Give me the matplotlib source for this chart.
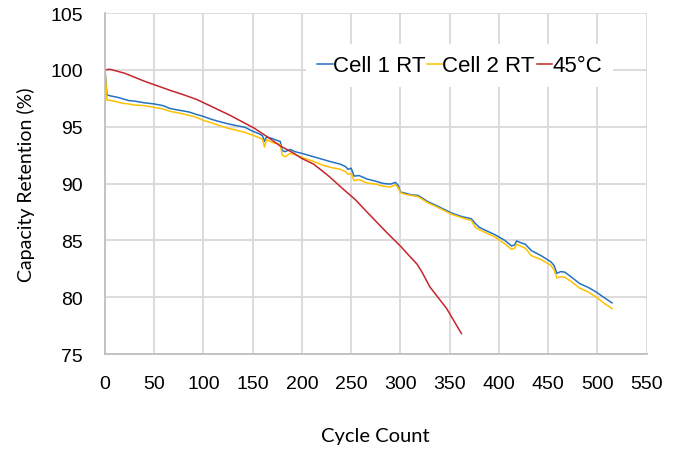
import matplotlib
matplotlib.use("Agg")
import matplotlib.pyplot as plt

# cycle points shared by the two room-temperature cells
rt_cycles = [
    0, 2, 6, 12, 18, 24, 30, 40, 50, 59, 66, 75, 85, 92, 100, 108, 116, 125,
    133, 142, 150, 156, 160, 162, 164, 170, 176, 178, 180, 183, 188, 193, 200,
    210, 220, 230, 239, 244, 247, 250, 253, 258, 266, 275, 283, 290, 295, 298,
    300, 305, 311, 318, 328, 338, 345, 352, 362, 372, 376, 380, 386, 396, 406,
    413, 416, 418, 422, 427, 433, 443, 453, 456, 459, 463, 467, 474, 482, 491,
    499, 508, 515,
]
cell1_rt = [
    100.0, 97.8, 97.7, 97.6, 97.45, 97.3, 97.25, 97.1, 97.0, 96.85, 96.6,
    96.45, 96.3, 96.1, 95.9, 95.65, 95.45, 95.25, 95.1, 94.95, 94.6, 94.4,
    94.2, 93.7, 94.1, 93.95, 93.75, 93.7, 92.9, 92.8, 93.0, 92.8, 92.65, 92.4,
    92.15, 91.9, 91.7, 91.5, 91.25, 91.35, 90.65, 90.7, 90.4, 90.2, 90.0,
    89.95, 90.1, 89.8, 89.25, 89.15, 89.0, 88.95, 88.4, 88.0, 87.7, 87.4,
    87.1, 86.9, 86.5, 86.15, 85.9, 85.5, 85.0, 84.5, 84.6, 84.95, 84.8, 84.65,
    84.1, 83.65, 83.1, 82.8, 82.1, 82.25, 82.2, 81.75, 81.2, 80.85, 80.45,
    79.9, 79.5,
]
cell2_rt = [
    100.0, 97.35, 97.3, 97.2, 97.05, 97.0, 96.9, 96.85, 96.7, 96.55, 96.35,
    96.2, 96.0, 95.85, 95.55, 95.35, 95.1, 94.85, 94.7, 94.5, 94.25, 94.05,
    93.9, 93.2, 93.85, 93.6, 93.5, 93.4, 92.5, 92.35, 92.65, 92.55, 92.3,
    92.0, 91.65, 91.4, 91.25, 91.05, 90.8, 90.9, 90.25, 90.35, 90.05, 89.95,
    89.75, 89.7, 89.9, 89.6, 89.2, 89.05, 88.95, 88.85, 88.3, 87.9, 87.6,
    87.3, 87.0, 86.75, 86.15, 85.95, 85.7, 85.3, 84.7, 84.2, 84.3, 84.65,
    84.5, 84.3, 83.65, 83.3, 82.8, 82.4, 81.7, 81.8, 81.75, 81.35, 80.8,
    80.45, 80.0, 79.4, 79.0,
]

# 45 degC cell
hot_cycles = [
    0, 5, 20, 40, 66, 80, 93, 110, 127, 140, 151, 165, 178, 191, 200, 212,
    228, 242, 254, 266, 286, 300, 310, 317, 322, 330, 347, 362,
]
hot_45c = [
    100.0, 100.05, 99.7, 99.0, 98.2, 97.8, 97.4, 96.7, 96.0, 95.4, 94.9,
    94.1, 93.3, 92.7, 92.2, 91.7, 90.6, 89.5, 88.6, 87.5, 85.7, 84.5, 83.55,
    82.9, 82.2, 80.9, 79.0, 76.8,
]

x_ticks = list(range(0, 551, 50))
y_ticks = list(range(75, 106, 5))

plt.rcParams["font.family"] = ["Liberation Sans", "DejaVu Sans"]

fig = plt.figure(figsize=(6.85, 4.52), dpi=100)
ax = fig.add_axes([0.1533, 0.2146, 0.7905, 0.7544])

ax.plot(rt_cycles, cell1_rt, color="#2672C0", linewidth=1.1, label="Cell 1 RT")
ax.plot(rt_cycles, cell2_rt, color="#FFC000", linewidth=1.1, label="Cell 2 RT")
ax.plot(hot_cycles, hot_45c, color="#C4262E", linewidth=1.1, label="45°C")

ax.set_xlim(0, 550)
ax.set_ylim(75, 105)
ax.set_xticks(x_ticks)
ax.set_yticks(y_ticks)
ax.tick_params(length=0, labelsize=14, pad=15, colors="#000000")
ax.tick_params(axis="y", pad=16)
ax.grid(True, color="#D9D9D9", linewidth=1.3)
ax.set_axisbelow(True)
for side in ("top", "right"):
    ax.spines[side].set_visible(False)
for side in ("left", "bottom"):
    ax.spines[side].set_color("#BFBFBF")
    ax.spines[side].set_linewidth(1.3)

ax.set_xlabel("Cycle Count", family="Lato", fontsize=14.5, labelpad=25)
ax.set_ylabel("Capacity Retention (%)", family="Lato", fontsize=14, labelpad=11)

leg = ax.legend(
    loc="center", bbox_to_anchor=(0.655, 0.845), ncol=3, fontsize=16,
    frameon=True, fancybox=False, handlelength=0.68, handletextpad=0.0,
    columnspacing=0.1, borderpad=0.5,
)
leg.get_frame().set_facecolor("white")
leg.get_frame().set_edgecolor("none")
leg.get_frame().set_alpha(1.0)

fig.savefig("out.png", dpi=100)
